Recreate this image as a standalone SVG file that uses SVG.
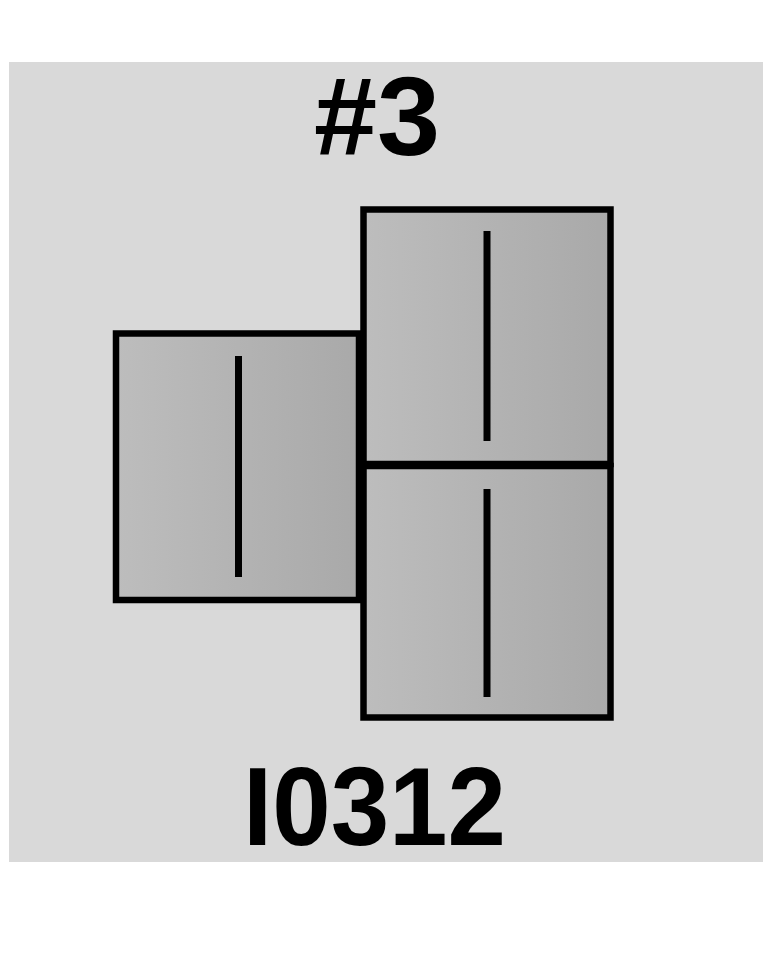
<svg xmlns="http://www.w3.org/2000/svg" width="763" height="953" viewBox="0 0 763 953">
  <defs>
    <linearGradient id="fillg" x1="0" y1="0" x2="1" y2="0">
      <stop offset="0" stop-color="#bdbdbd"/>
      <stop offset="1" stop-color="#a9a9a9"/>
    </linearGradient>
    <style>
      .box { fill: url(#fillg); stroke: #000; stroke-width: 6.5; }
      .bar { stroke: #000; stroke-width: 7; fill: none; }
      .lbl { font-family: "Liberation Sans", Arial, sans-serif; font-weight: bold; font-size: 112px; fill: #000; }
    </style>
  </defs>
  <rect x="0" y="0" width="763" height="953" fill="#ffffff"/>
  <rect id="panel" x="9" y="62" width="754" height="800" fill="#d9d9d9"/>
  <text id="title" class="lbl" x="314" y="155" textLength="126" lengthAdjust="spacingAndGlyphs">#3</text>
  <g id="box-left">
    <rect class="box" x="116" y="333.5" width="243" height="266.5"/>
    <line class="bar" x1="238.5" y1="356" x2="238.5" y2="577"/>
  </g>
  <g id="box-right-top">
    <rect class="box" x="363.5" y="209.5" width="247" height="254.5"/>
    <line class="bar" x1="487" y1="231" x2="487" y2="441"/>
  </g>
  <g id="box-right-bottom">
    <rect class="box" x="363.5" y="466" width="247" height="251.5"/>
    <line class="bar" x1="487" y1="489" x2="487" y2="697"/>
  </g>
  <g id="connectors"></g>
  <text id="code" class="lbl" x="243" y="845" textLength="263" lengthAdjust="spacingAndGlyphs">I0312</text>
</svg>
